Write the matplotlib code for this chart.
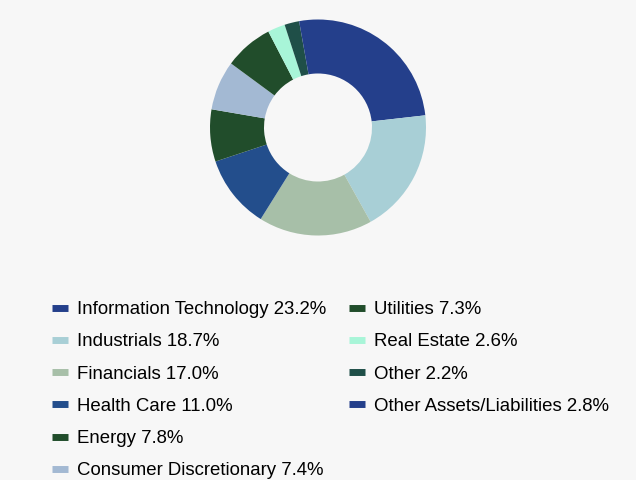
import matplotlib.pyplot as plt
from matplotlib.lines import Line2D

plt.rcParams['font.family'] = ['Liberation Sans', 'DejaVu Sans']

sectors = ['Information Technology', 'Industrials', 'Financials', 'Health Care', 'Energy',
           'Consumer Discretionary', 'Utilities', 'Real Estate', 'Other',
           'Other Assets/Liabilities']
weights = [23.2, 18.7, 17.0, 11.0, 7.8, 7.4, 7.3, 2.6, 2.2, 2.8]
colors = ['#243f8b', '#a8cfd6', '#a7bfa8', '#234e8c', '#214d2b',
          '#a3b9d3', '#214d2b', '#a8f5d8', '#1f4f48', '#243f8b']

bg = '#f7f7f7'
fig = plt.figure(figsize=(6.36, 4.8), dpi=100, facecolor=bg)

# donut
W, H = 636, 480
cx, cy, r = 318, 127.5, 108
ax = fig.add_axes([(cx - r) / W, (H - cy - r) / H, 2 * r / W, 2 * r / H])
ax.set_facecolor(bg)
ax.pie(weights, colors=colors, startangle=90, counterclock=False, radius=1,
       wedgeprops=dict(width=0.5, linewidth=0))
ax.set_aspect('equal')
ax.set_xlim(-1, 1)
ax.set_ylim(-1, 1)
ax.axis('off')

handles = [Line2D([], [], color=c, lw=5, solid_capstyle='butt') for c in colors]
labels = [f'{s} {w:.1f}%' for s, w in zip(sectors, weights)]

common = dict(frameon=False, fontsize=13.4, handlelength=0.86, handletextpad=0.48,
              labelspacing=0.82, borderpad=0, borderaxespad=0, loc='upper left')
leg1 = fig.legend(handles[:6], labels[:6], bbox_to_anchor=(52 / W, 1 - 301 / H), **common)
leg2 = fig.legend(handles[6:], labels[6:], bbox_to_anchor=(349 / W, 1 - 301 / H), **common)

fig.savefig('out.png', dpi=100, facecolor=bg)
